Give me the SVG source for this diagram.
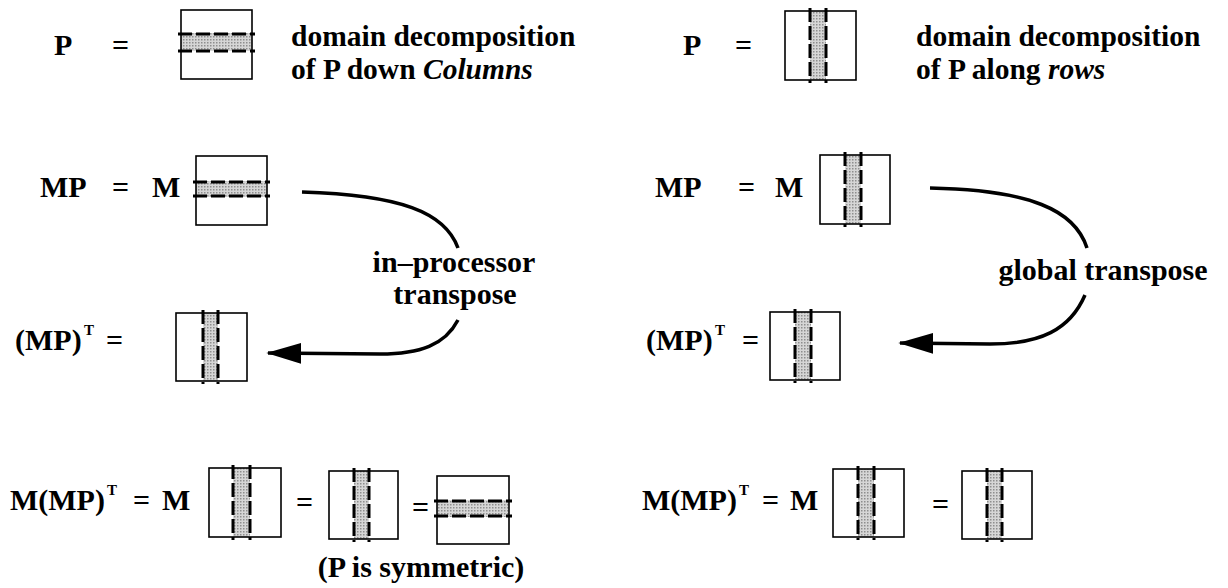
<svg xmlns="http://www.w3.org/2000/svg" width="1228" height="588" viewBox="0 0 1228 588">
<defs>
<style>
.t{font-family:"Liberation Serif","Times New Roman","DejaVu Serif",serif;font-weight:bold;font-size:30px;fill:#000}
.lab{font-size:29.5px}
.it{font-style:italic}
.sup{font-size:15px}
.box{fill:none;stroke:#000;stroke-width:1.6}
.band{fill:url(#stip)}
.dl{stroke:#000;stroke-width:3;stroke-dasharray:14 4;fill:none}
.conn{fill:none;stroke:#000;stroke-width:3.5;stroke-linecap:butt}
</style>
<pattern id="stip" width="3" height="3" patternUnits="userSpaceOnUse">
<rect width="3" height="3" fill="#d6d6d6"/>
<rect width="1.5" height="1.5" fill="#8e8e8e"/>
</pattern>
<marker id="ah" viewBox="0 0 10 6" refX="9.5" refY="3" markerWidth="10" markerHeight="6" markerUnits="strokeWidth" orient="auto">
<path d="M0,0 L10,3 L0,6 Z" fill="#000"/>
</marker>
</defs>
<rect width="1228" height="588" fill="#fff"/>

<g id="row1-left">
<text class="t" x="54" y="55">P</text>
<text class="t" x="112" y="55">=</text>
</g>
<g id="boxA">
<rect class="band" x="181" y="33" width="71" height="18"/>
<rect class="box" x="181" y="10" width="71" height="69"/>
<line class="dl" x1="178" y1="34" x2="255" y2="34"/>
<line class="dl" x1="178" y1="51" x2="255" y2="51"/>
</g>
<g id="label-columns">
<text class="t lab" x="291" y="46">domain decomposition</text>
<text class="t lab" x="291" y="79">of P down <tspan class="it">Columns</tspan></text>
</g>

<g id="row1-right">
<text class="t" x="683" y="55">P</text>
<text class="t" x="735" y="55">=</text>
</g>
<g id="boxB">
<rect class="band" x="810" y="11" width="16" height="69"/>
<rect class="box" x="785" y="11" width="71" height="69"/>
<line class="dl" x1="810" y1="8" x2="810" y2="83"/>
<line class="dl" x1="826" y1="8" x2="826" y2="83"/>
</g>
<g id="label-rows">
<text class="t lab" x="916" y="46">domain decomposition</text>
<text class="t lab" x="916" y="79">of P along <tspan class="it">rows</tspan></text>
</g>

<g id="row2-left">
<text class="t" x="40" y="197">MP</text>
<text class="t" x="112" y="197">=</text>
<text class="t" x="152" y="197">M</text>
</g>
<g id="boxC">
<rect class="band" x="196" y="181" width="71" height="16"/>
<rect class="box" x="196" y="156" width="71" height="69"/>
<line class="dl" x1="193" y1="182" x2="270" y2="182"/>
<line class="dl" x1="193" y1="196" x2="270" y2="196"/>
</g>

<g id="row3-left">
<text class="t" x="15" y="350">(MP)</text>
<text class="t sup" x="84" y="335">T</text>
<text class="t" x="106" y="350">=</text>
</g>
<g id="boxD">
<rect class="band" x="203" y="313" width="15" height="68"/>
<rect class="box" x="176" y="313" width="71" height="68"/>
<line class="dl" x1="203" y1="310" x2="203" y2="384"/>
<line class="dl" x1="218" y1="310" x2="218" y2="384"/>
</g>

<g id="label-inproc">
<text class="t" x="454" y="272" text-anchor="middle">in–processor</text>
<text class="t" x="455" y="304" text-anchor="middle">transpose</text>
</g>

<g id="row2-right">
<text class="t" x="655" y="197">MP</text>
<text class="t" x="738" y="197">=</text>
<text class="t" x="775" y="197">M</text>
</g>
<g id="boxE">
<rect class="band" x="845" y="155" width="16" height="69"/>
<rect class="box" x="820" y="155" width="70" height="69"/>
<line class="dl" x1="845" y1="152" x2="845" y2="227"/>
<line class="dl" x1="861" y1="152" x2="861" y2="227"/>
</g>

<g id="row3-right">
<text class="t" x="646" y="350">(MP)</text>
<text class="t sup" x="715" y="335">T</text>
<text class="t" x="742" y="350">=</text>
</g>
<g id="boxK">
<rect class="band" x="795" y="312" width="16" height="68"/>
<rect class="box" x="770" y="312" width="70" height="68"/>
<line class="dl" x1="795" y1="309" x2="795" y2="383"/>
<line class="dl" x1="811" y1="309" x2="811" y2="383"/>
</g>

<g id="label-global">
<text class="t" x="1103" y="280" text-anchor="middle">global transpose</text>
</g>

<g id="row4-left">
<text class="t" x="10" y="510">M(MP)</text>
<text class="t sup" x="107" y="495">T</text>
<text class="t" x="133" y="510">=</text>
<text class="t" x="162" y="510">M</text>
<text class="t" x="296" y="512">=</text>
<text class="t" x="412" y="517">=</text>
</g>
<g id="boxF">
<rect class="band" x="233" y="468" width="17" height="69"/>
<rect class="box" x="209" y="468" width="72" height="69"/>
<line class="dl" x1="233" y1="465" x2="233" y2="540"/>
<line class="dl" x1="250" y1="465" x2="250" y2="540"/>
</g>
<g id="boxG">
<rect class="band" x="354" y="471" width="15" height="68"/>
<rect class="box" x="329" y="471" width="69" height="68"/>
<line class="dl" x1="354" y1="468" x2="354" y2="542"/>
<line class="dl" x1="369" y1="468" x2="369" y2="542"/>
</g>
<g id="boxH">
<rect class="band" x="437" y="500" width="72" height="17"/>
<rect class="box" x="437" y="476" width="72" height="68"/>
<line class="dl" x1="434" y1="501" x2="512" y2="501"/>
<line class="dl" x1="434" y1="516" x2="512" y2="516"/>
</g>
<g id="label-sym">
<text class="t" x="421" y="577" text-anchor="middle">(P is symmetric)</text>
</g>

<g id="row4-right">
<text class="t" x="642" y="510">M(MP)</text>
<text class="t sup" x="739" y="495">T</text>
<text class="t" x="762" y="510">=</text>
<text class="t" x="790" y="510">M</text>
<text class="t" x="932" y="514">=</text>
</g>
<g id="boxI">
<rect class="band" x="858" y="469" width="16" height="68"/>
<rect class="box" x="833" y="469" width="71" height="68"/>
<line class="dl" x1="858" y1="466" x2="858" y2="540"/>
<line class="dl" x1="874" y1="466" x2="874" y2="540"/>
</g>
<g id="boxJ">
<rect class="band" x="987" y="471" width="15" height="68"/>
<rect class="box" x="962" y="471" width="70" height="68"/>
<line class="dl" x1="987" y1="468" x2="987" y2="542"/>
<line class="dl" x1="1002" y1="468" x2="1002" y2="542"/>
</g>

<g id="connectors">
<path class="conn" d="M302,192 C400,195 445,212 458,248"/>
<path class="conn" d="M458,320 C445,345 420,354 380,354 L268,353" marker-end="url(#ah)"/>
<path class="conn" d="M930,188 C1030,190 1075,210 1087,248"/>
<path class="conn" d="M1085,295 C1070,330 1040,344 990,344 L900,343" marker-end="url(#ah)"/>
</g>
</svg>
